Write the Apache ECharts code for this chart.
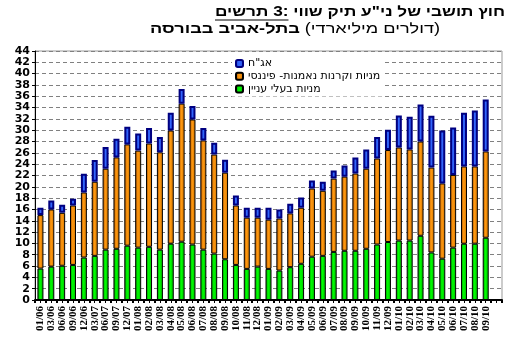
<!DOCTYPE html>
<html><head><meta charset="utf-8">
<script src="https://cdn.jsdelivr.net/npm/echarts@6/dist/echarts.min.js"></script>
<style>html,body{margin:0;padding:0;background:#fff}#c{width:517px;height:357px}</style>
</head><body><div id="c"></div>
<script>
const categories = ['01/06','03/06','06/06','09/06','12/06','03/07','06/07','09/07','12/07','01/08','02/08','03/08','04/08','05/08','06/08','07/08','08/08','09/08','10/08','11/08','12/08','01/09','02/09','03/09','04/09','05/09','06/09','07/09','08/09','09/09','10/09','11/09','12/09','01/10','02/10','03/10','04/10','05/10','06/10','07/10','08/10','09/10',''];
const seriesNames = ['מניות בעלי עניין', 'מניות וקרנות נאמנות- פיננסי', 'אג"ח'];
const green  = [5.55,5.9,6.05,6.2,7.5,7.8,8.9,9.05,9.6,9.25,9.4,8.9,9.95,10.3,9.8,8.9,8.2,7.2,6.2,5.5,5.9,5.5,5.2,5.8,6.4,7.65,7.8,8.5,8.7,8.7,9.05,9.8,10.25,10.5,10.5,11.35,8.4,7.3,9.25,9.95,9.95,11.0];
const orange = [9.45,10.1,9.35,10.5,11.5,13.1,14.3,16.15,17.9,17.15,18.25,17.2,20.0,24.4,22.1,19.3,17.5,15.3,10.5,9.05,8.65,8.7,9.2,9.5,9.9,12.05,11.5,12.95,13.1,13.65,14.15,15.2,16.25,16.45,16.1,16.65,15.0,13.3,12.85,13.65,13.65,15.25];
const blue   = [1.3,1.6,1.45,1.2,3.3,3.85,3.85,3.3,3.1,3.0,2.75,2.7,3.15,2.6,2.4,2.2,2.1,2.3,1.75,1.75,1.75,2.1,1.6,1.7,1.8,1.4,1.6,1.45,1.95,2.85,3.4,3.8,3.6,5.65,5.8,6.55,9.15,9.35,8.4,9.5,9.9,9.2];
const yMin = 0, yMax = 44, yStep = 2;
const titleLine1 = ['תרשים 3:', 'שווי תיק ני"ע של תושבי חוץ'];
const titleLine2 = ['בבורסה בתל-אביב', '(מיליארדי דולרים)'];

const G = echarts.graphic;
function grad(a,b,c){return new G.LinearGradient(0,0,1,0,[{offset:0,color:a},{offset:0.45,color:b},{offset:1,color:c}]);}
function rich(str, st){ return str.split(' ').map(w => '{'+st+'|'+w+'}').join('{'+st+'| }'); }

const mctx = document.createElement('canvas').getContext('2d');
function tw(txt, font){ mctx.font = font; return mctx.measureText(txt).width; }
const FS = 14, FF = '"Liberation Sans"';
const fB = 'bold '+FS+'px '+FF;
const fN = FS+'px '+FF;
// title box extents (layout)
const l1x = 215, l1r = 505, l1y = 5;
const l2x = 150, l2r = 440, l2y = 22;
const w1 = tw(titleLine1[0]+' '+titleLine1[1], fB);
const w1a = tw(titleLine1[0], fB);
const w2 = tw(titleLine2[0]+' ', fB) + tw(titleLine2[1], fN);
const s1 = (l1r - l1x) / w1, s2 = (l2r - l2x) / w2;
const richStyles = {
  b:{fontFamily:'Liberation Sans', fontWeight:'bold', fontSize:FS, color:'#000'},
  n:{fontFamily:'Liberation Sans', fontWeight:'normal', fontSize:FS, color:'#000'}
};
const line1 = rich(titleLine1[0],'b') + '{b| }' + rich(titleLine1[1],'b');
const line2 = rich(titleLine2[0],'b') + '{b| }' + rich(titleLine2[1],'n');

const chart = echarts.init(document.getElementById('c'), null, {renderer:'canvas'});
chart.setOption({
  animation:false,
  backgroundColor:'#fff',
  grid:{left:35, right:15, top:51, bottom:57, show:true, borderColor:'#999', borderWidth:1, backgroundColor:'#fff'},
  legend:{
    orient:'vertical', left:232, top:56, itemWidth:7, itemHeight:7, itemGap:1.8,
    padding:[2,4,2,3], backgroundColor:'#fff',
    data:[seriesNames[2], seriesNames[1], seriesNames[0]],
    textStyle:{fontFamily:'DejaVu Sans', fontSize:11, color:'#000', lineHeight:7}
  },
  graphic:[
    {type:'text', x:l1x, y:l1y, scaleX:s1, style:{text:line1, rich:richStyles}},
    {type:'line', shape:{x1:l1x, y1:l1y+15, x2:l1x+w1a*s1, y2:l1y+15}, style:{stroke:'#000', lineWidth:1}},
    {type:'text', x:l2x, y:l2y, scaleX:s2, style:{text:line2, rich:richStyles}}
  ],
  xAxis:[{
    type:'category', data:categories,
    axisLine:{lineStyle:{color:'#000', width:2}},
    axisTick:{show:true, interval:0, length:3, lineStyle:{color:'#000', width:2}},
    axisLabel:{interval:0, rotate:90, margin:6, fontFamily:'Liberation Serif', fontWeight:'bold', fontSize:11, color:'#000'},
    splitLine:{show:false}
  },{
    type:'category', data:categories, position:'bottom',
    axisLine:{show:false},
    axisTick:{show:true, alignWithLabel:true, interval:0, length:3, lineStyle:{color:'#000', width:1}},
    axisLabel:{show:false}, splitLine:{show:false}
  }],
  yAxis:{
    type:'value', min:yMin, max:yMax, interval:yStep,
    axisLine:{show:true, lineStyle:{color:'#000', width:1}},
    axisTick:{show:true, length:3, lineStyle:{color:'#000'}},
    axisLabel:{margin:5, fontFamily:'DejaVu Sans', fontWeight:'bold', fontSize:11, color:'#000'},
    splitLine:{show:true, lineStyle:{color:'#808080', type:[4,3], width:1}}
  },
  series:[
    {name:seriesNames[0], type:'bar', stack:'s', barWidth:6, data:green,
     itemStyle:{color:grad('#008800','#00ff00','#00b400'), borderColor:'#000', borderWidth:1}},
    {name:seriesNames[1], type:'bar', stack:'s', barWidth:6, data:orange,
     itemStyle:{color:grad('#a04800','#ff9a10','#d07000'), borderColor:'#000', borderWidth:1}},
    {name:seriesNames[2], type:'bar', stack:'s', barWidth:6, data:blue,
     itemStyle:{color:grad('#1a3cc0','#3366ff','#2a55e0'), borderColor:'#000080', borderWidth:2}}
  ]
});
</script></body></html>
